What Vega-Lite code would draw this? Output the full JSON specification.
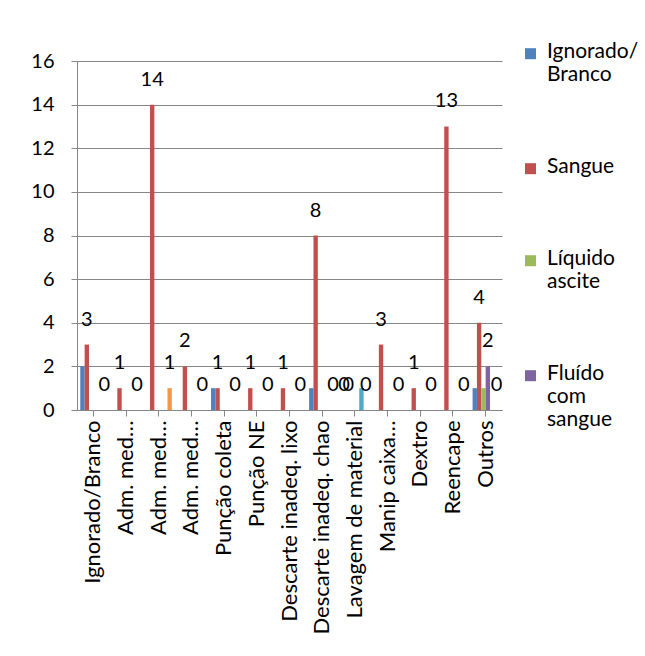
{
  "$schema": "https://vega.github.io/schema/vega-lite/v6.json",
  "width": 425,
  "height": 349,
  "autosize": "none",
  "padding": {"left": 77, "top": 61, "right": 143, "bottom": 246},
  "background": "white",
  "config": {
    "view": {"stroke": null},
    "font": "Lato",
    "axis": {
      "domainColor": "#868686",
      "tickColor": "#868686",
      "gridColor": "#868686",
      "labelColor": "#000000"
    }
  },
  "data": {
    "values": [
      {"tipo": "Ignorado/Branco", "material": "Ignorado/Branco", "n": 2},
      {"tipo": "Ignorado/Branco", "material": "Sangue", "n": 3},
      {"tipo": "Ignorado/Branco", "material": "Líquido ascite", "n": 0},
      {"tipo": "Ignorado/Branco", "material": "Fluído com sangue", "n": 0},
      {"tipo": "Ignorado/Branco", "material": "Soro/plasma", "n": 0},
      {"tipo": "Ignorado/Branco", "material": "Outro material", "n": 0},
      {"tipo": "Adm. med. EV", "material": "Ignorado/Branco", "n": 0},
      {"tipo": "Adm. med. EV", "material": "Sangue", "n": 1},
      {"tipo": "Adm. med. EV", "material": "Líquido ascite", "n": 0},
      {"tipo": "Adm. med. EV", "material": "Fluído com sangue", "n": 0},
      {"tipo": "Adm. med. EV", "material": "Soro/plasma", "n": 0},
      {"tipo": "Adm. med. EV", "material": "Outro material", "n": 0},
      {"tipo": "Adm. med. IM", "material": "Ignorado/Branco", "n": 0},
      {"tipo": "Adm. med. IM", "material": "Sangue", "n": 14},
      {"tipo": "Adm. med. IM", "material": "Líquido ascite", "n": 0},
      {"tipo": "Adm. med. IM", "material": "Fluído com sangue", "n": 0},
      {"tipo": "Adm. med. IM", "material": "Soro/plasma", "n": 0},
      {"tipo": "Adm. med. IM", "material": "Outro material", "n": 1},
      {"tipo": "Adm. med. SC", "material": "Ignorado/Branco", "n": 0},
      {"tipo": "Adm. med. SC", "material": "Sangue", "n": 2},
      {"tipo": "Adm. med. SC", "material": "Líquido ascite", "n": 0},
      {"tipo": "Adm. med. SC", "material": "Fluído com sangue", "n": 0},
      {"tipo": "Adm. med. SC", "material": "Soro/plasma", "n": 0},
      {"tipo": "Adm. med. SC", "material": "Outro material", "n": 0},
      {"tipo": "Punção coleta", "material": "Ignorado/Branco", "n": 1},
      {"tipo": "Punção coleta", "material": "Sangue", "n": 1},
      {"tipo": "Punção coleta", "material": "Líquido ascite", "n": 0},
      {"tipo": "Punção coleta", "material": "Fluído com sangue", "n": 0},
      {"tipo": "Punção coleta", "material": "Soro/plasma", "n": 0},
      {"tipo": "Punção coleta", "material": "Outro material", "n": 0},
      {"tipo": "Punção NE", "material": "Ignorado/Branco", "n": 0},
      {"tipo": "Punção NE", "material": "Sangue", "n": 1},
      {"tipo": "Punção NE", "material": "Líquido ascite", "n": 0},
      {"tipo": "Punção NE", "material": "Fluído com sangue", "n": 0},
      {"tipo": "Punção NE", "material": "Soro/plasma", "n": 0},
      {"tipo": "Punção NE", "material": "Outro material", "n": 0},
      {"tipo": "Descarte inadeq. lixo", "material": "Ignorado/Branco", "n": 0},
      {"tipo": "Descarte inadeq. lixo", "material": "Sangue", "n": 1},
      {"tipo": "Descarte inadeq. lixo", "material": "Líquido ascite", "n": 0},
      {"tipo": "Descarte inadeq. lixo", "material": "Fluído com sangue", "n": 0},
      {"tipo": "Descarte inadeq. lixo", "material": "Soro/plasma", "n": 0},
      {"tipo": "Descarte inadeq. lixo", "material": "Outro material", "n": 0},
      {"tipo": "Descarte inadeq. chao", "material": "Ignorado/Branco", "n": 1},
      {"tipo": "Descarte inadeq. chao", "material": "Sangue", "n": 8},
      {"tipo": "Descarte inadeq. chao", "material": "Líquido ascite", "n": 0},
      {"tipo": "Descarte inadeq. chao", "material": "Fluído com sangue", "n": 0},
      {"tipo": "Descarte inadeq. chao", "material": "Soro/plasma", "n": 0},
      {"tipo": "Descarte inadeq. chao", "material": "Outro material", "n": 0},
      {"tipo": "Lavagem de material", "material": "Ignorado/Branco", "n": 0},
      {"tipo": "Lavagem de material", "material": "Sangue", "n": 0},
      {"tipo": "Lavagem de material", "material": "Líquido ascite", "n": 0},
      {"tipo": "Lavagem de material", "material": "Fluído com sangue", "n": 0},
      {"tipo": "Lavagem de material", "material": "Soro/plasma", "n": 1},
      {"tipo": "Lavagem de material", "material": "Outro material", "n": 0},
      {"tipo": "Manip caixa perfurocortante", "material": "Ignorado/Branco", "n": 0},
      {"tipo": "Manip caixa perfurocortante", "material": "Sangue", "n": 3},
      {"tipo": "Manip caixa perfurocortante", "material": "Líquido ascite", "n": 0},
      {"tipo": "Manip caixa perfurocortante", "material": "Fluído com sangue", "n": 0},
      {"tipo": "Manip caixa perfurocortante", "material": "Soro/plasma", "n": 0},
      {"tipo": "Manip caixa perfurocortante", "material": "Outro material", "n": 0},
      {"tipo": "Dextro", "material": "Ignorado/Branco", "n": 0},
      {"tipo": "Dextro", "material": "Sangue", "n": 1},
      {"tipo": "Dextro", "material": "Líquido ascite", "n": 0},
      {"tipo": "Dextro", "material": "Fluído com sangue", "n": 0},
      {"tipo": "Dextro", "material": "Soro/plasma", "n": 0},
      {"tipo": "Dextro", "material": "Outro material", "n": 0},
      {"tipo": "Reencape", "material": "Ignorado/Branco", "n": 0},
      {"tipo": "Reencape", "material": "Sangue", "n": 13},
      {"tipo": "Reencape", "material": "Líquido ascite", "n": 0},
      {"tipo": "Reencape", "material": "Fluído com sangue", "n": 0},
      {"tipo": "Reencape", "material": "Soro/plasma", "n": 0},
      {"tipo": "Reencape", "material": "Outro material", "n": 0},
      {"tipo": "Outros", "material": "Ignorado/Branco", "n": 1},
      {"tipo": "Outros", "material": "Sangue", "n": 4},
      {"tipo": "Outros", "material": "Líquido ascite", "n": 1},
      {"tipo": "Outros", "material": "Fluído com sangue", "n": 2},
      {"tipo": "Outros", "material": "Soro/plasma", "n": 0},
      {"tipo": "Outros", "material": "Outro material", "n": 0}
    ]
  },
  "encoding": {
    "x": {
      "field": "tipo",
      "type": "nominal",
      "title": null,
      "scale": {
        "domain": ["Ignorado/Branco", "Adm. med. EV", "Adm. med. IM", "Adm. med. SC", "Punção coleta", "Punção NE", "Descarte inadeq. lixo", "Descarte inadeq. chao", "Lavagem de material", "Manip caixa perfurocortante", "Dextro", "Reencape", "Outros"],
        "paddingInner": 0,
        "paddingOuter": 0
      },
      "axis": {
        "labelAngle": -90,
        "labelFontSize": 22,
        "labelPadding": 4,
        "labelLimit": 400,
        "tickSize": 6,
        "labelExpr": "indexof(datum.value, 'Adm. med') == 0 ? 'Adm. med…' : indexof(datum.value, 'Manip caixa') == 0 ? 'Manip caixa…' : datum.value"
      }
    },
    "xOffset": {
      "field": "material",
      "type": "nominal",
      "scale": {
        "domain": ["Ignorado/Branco", "Sangue", "Líquido ascite", "Fluído com sangue", "Soro/plasma", "Outro material"],
        "paddingInner": 0,
        "paddingOuter": 0.75
      }
    },
    "y": {
      "field": "n",
      "type": "quantitative",
      "title": null,
      "stack": null,
      "scale": {"domain": [0, 16], "nice": false},
      "axis": {
        "values": [0, 2, 4, 6, 8, 10, 12, 14, 16],
        "labelFontSize": 20,
        "labelPadding": 17,
        "tickSize": 6,
        "grid": true
      }
    }
  },
  "layer": [
    {
      "mark": {"type": "bar"},
      "encoding": {
        "color": {
          "field": "material",
          "type": "nominal",
          "scale": {
            "domain": ["Ignorado/Branco", "Sangue", "Líquido ascite", "Fluído com sangue", "Soro/plasma", "Outro material"],
            "range": ["#4F81BD", "#C0504D", "#9BBB59", "#8064A2", "#4BACC6", "#F79646"]
          },
          "legend": {
            "values": ["Ignorado/Branco", "Sangue", "Líquido ascite", "Fluído com sangue"],
            "title": null,
            "orient": "none",
            "legendX": 443,
            "legendY": -31,
            "symbolType": "M-1,1.4H1V3.4H-1Z",
            "symbolSize": 121,
            "symbolStrokeWidth": 0,
            "labelFontSize": 21,
            "labelColor": "#000000",
            "labelBaseline": "top",
            "labelOffset": 6,
            "rowPadding": 60,
            "labelExpr": "datum.label == 'Ignorado/Branco' ? ['Ignorado/', 'Branco'] : datum.label == 'Líquido ascite' ? ['Líquido', 'ascite'] : datum.label == 'Fluído com sangue' ? ['Fluído', 'com', 'sangue'] : datum.label"
          }
        }
      }
    },
    {
      "transform": [
        {"filter": "datum.material == 'Sangue' || datum.material == 'Outro material' || (datum.tipo == 'Lavagem de material' && datum.material == 'Ignorado/Branco') || (datum.tipo == 'Outros' && datum.material == 'Fluído com sangue')"}
      ],
      "mark": {"type": "text", "fontSize": 20, "baseline": "middle", "dy": -25, "color": "#000000"},
      "encoding": {"text": {"field": "n", "type": "quantitative"}}
    }
  ]
}
